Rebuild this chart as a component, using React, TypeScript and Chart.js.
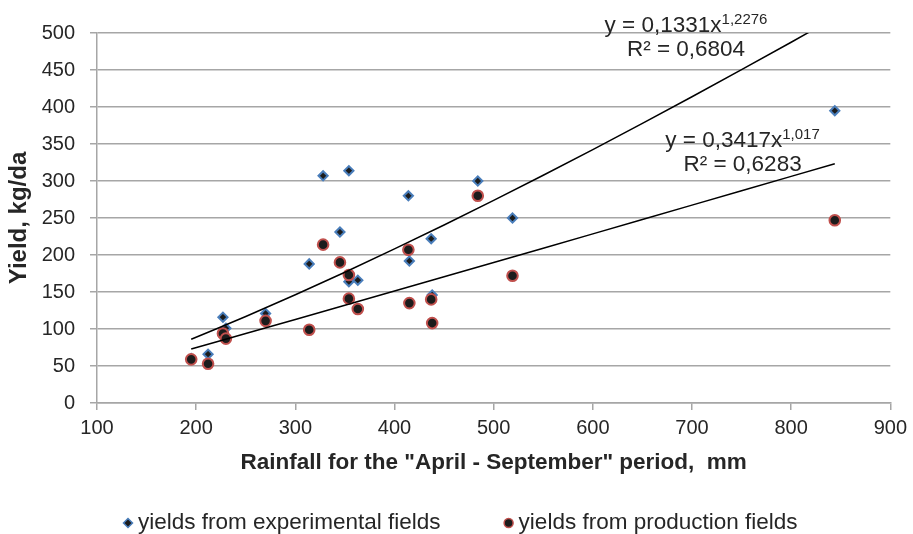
import React, { useEffect, useRef } from "react";
import { Chart, registerables } from "chart.js";

Chart.register(...registerables);

const FONT = '"Liberation Sans", Arial, Helvetica, sans-serif';
const TEXT = "#262626";
const GRID = "#a6a6a6";

// Rainfall (April - September), mm
const rainfall = [195, 212, 227, 230, 270, 314, 328, 345, 354, 354, 363, 414, 415, 437, 438, 484, 519, 844];
// Yield, kg/da
const experimentalYield = [60, 66, 116, 101, 121, 188, 307, 231, 314, 164, 166, 280, 192, 222, 146, 300, 250, 395];
const productionYield = [59, 53, 94, 87, 111, 99, 214, 190, 173, 141, 127, 207, 135, 140, 108, 280, 172, 247];

const xMin = 100;
const xMax = 900;
const xStep = 100;
const yMin = 0;
const yMax = 500;
const yStep = 50;

// power trendlines as printed on the chart: y = a * x^b
const experimentalFit = { a: 0.1331, b: 1.2276, r2: 0.6804 };
const productionFit = { a: 0.3417, b: 1.017, r2: 0.6283 };
const trendX = [195, 220, 250, 300, 350, 400, 450, 500, 550, 600, 650, 700, 750, 800, 844];

// label anchors (data units): centre x, baseline of equation, baseline of R²
const experimentalLabel = { x: 694, y: 501.4, y2: 468.9 };
const productionLabel = { x: 751, y: 346.4, y2: 313.9 };

const seriesNames = ["yields from experimental fields", "yields from production fields"];
const xTitle = 'Rainfall for the "April - September" period,  mm';
const yTitle = "Yield, kg/da";

const fmt = (v: number) => String(v).replace(".", ",");

export default function App() {
  const ref = useRef<HTMLCanvasElement | null>(null);

  useEffect(() => {
    const canvas = ref.current;
    if (!canvas) return;

    const annotations = {
      id: "annotations",
      afterDraw(chart: any) {
        const { ctx, chartArea } = chart;
        const xs = chart.scales.x;
        const ys = chart.scales.y;
        ctx.save();
        ctx.fillStyle = TEXT;
        ctx.textBaseline = "alphabetic";

        const drawEq = (fit: any, anc: any) => {
          const main = `y = ${fmt(fit.a)}x`;
          const sup = fmt(fit.b);
          ctx.font = `22.5px ${FONT}`;
          const wm = ctx.measureText(main).width;
          ctx.font = `15px ${FONT}`;
          const ws = ctx.measureText(sup).width;
          const cx = xs.getPixelForValue(anc.x);
          const by = ys.getPixelForValue(anc.y);
          const sx = cx - (wm + ws) / 2;
          ctx.textAlign = "left";
          ctx.font = `22.5px ${FONT}`;
          ctx.fillText(main, sx, by);
          ctx.font = `15px ${FONT}`;
          ctx.fillText(sup, sx + wm, by - 7.5);
          ctx.textAlign = "center";
          ctx.font = `22.5px ${FONT}`;
          ctx.fillText(`R² = ${fmt(fit.r2)}`, cx, ys.getPixelForValue(anc.y2));
        };
        drawEq(experimentalFit, experimentalLabel);
        drawEq(productionFit, productionLabel);

        // x axis title
        ctx.textAlign = "center";
        ctx.font = `bold 22.5px ${FONT}`;
        ctx.fillText(xTitle, (chartArea.left + chartArea.right) / 2, chartArea.bottom + 66);

        // legend
        ctx.font = `22.5px ${FONT}`;
        ctx.textAlign = "left";
        ctx.textBaseline = "middle";
        const ly = chartArea.bottom + 120;
        const m1 = 128;
        const t1 = m1 + 10;
        ctx.fillText(seriesNames[0], t1, ly);
        const w1 = ctx.measureText(seriesNames[0]).width;
        const m2 = t1 + w1 + 68;
        const t2 = m2 + 10;
        ctx.fillText(seriesNames[1], t2, ly);

        ctx.lineWidth = 1.5;
        ctx.beginPath();
        const r = 4.5;
        ctx.moveTo(m1 - r, ly);
        ctx.lineTo(m1, ly - r);
        ctx.lineTo(m1 + r, ly);
        ctx.lineTo(m1, ly + r);
        ctx.closePath();
        ctx.fillStyle = "#1c1c1c";
        ctx.fill();
        ctx.strokeStyle = "#4a7ebb";
        ctx.stroke();

        ctx.beginPath();
        ctx.arc(m2, ly, 4.5, 0, Math.PI * 2);
        ctx.fillStyle = "#1c1c1c";
        ctx.fill();
        ctx.strokeStyle = "#c0504d";
        ctx.stroke();
        ctx.restore();
      },
    };

    const chart = new Chart(canvas, {
      type: "scatter",
      data: {
        datasets: [
          {
            label: seriesNames[0],
            data: rainfall.map((x, i) => ({ x, y: experimentalYield[i] })),
            pointStyle: "rectRot",
            pointRadius: 4.6,
            pointBorderWidth: 2,
            pointBorderColor: "#4a7ebb",
            pointBackgroundColor: "#1c1c1c",
            order: 3,
          },
          {
            label: seriesNames[1],
            data: rainfall.map((x, i) => ({ x, y: productionYield[i] })),
            pointStyle: "circle",
            pointRadius: 5.3,
            pointBorderWidth: 2,
            pointBorderColor: "#c0504d",
            pointBackgroundColor: "#1c1c1c",
            order: 2,
          },
          {
            label: "trend experimental",
            data: trendX.map((x) => ({ x, y: experimentalFit.a * Math.pow(x, experimentalFit.b) })),
            showLine: true,
            pointRadius: 0,
            borderColor: "#000000",
            borderWidth: 1.5,
            fill: false,
            order: 1,
          } as any,
          {
            label: "trend production",
            data: trendX.map((x) => ({ x, y: productionFit.a * Math.pow(x, productionFit.b) })),
            showLine: true,
            pointRadius: 0,
            borderColor: "#000000",
            borderWidth: 1.5,
            fill: false,
            order: 1,
          } as any,
        ],
      },
      options: {
        responsive: false,
        animation: false,
        devicePixelRatio: 1,
        layout: { padding: { left: 0, top: 33, right: 21, bottom: 91 } },
        plugins: {
          legend: { display: false },
          tooltip: { enabled: false },
        },
        scales: {
          x: {
            type: "linear",
            min: xMin,
            max: xMax,
            ticks: {
              stepSize: xStep,
              color: TEXT,
              padding: 6,
              font: { family: FONT, size: 20 },
              maxRotation: 0,
            },
            grid: { drawOnChartArea: false, drawTicks: true, tickLength: 7, color: GRID, lineWidth: 1.5 },
            border: { display: true, color: GRID, width: 1.5 },
            afterFit: (s: any) => {
              s.height = 40;
            },
          },
          y: {
            type: "linear",
            min: yMin,
            max: yMax,
            ticks: {
              stepSize: yStep,
              color: TEXT,
              padding: 15,
              font: { family: FONT, size: 20 },
            },
            grid: { drawTicks: true, tickLength: 7, color: GRID, lineWidth: 1.5 },
            border: { display: true, color: GRID, width: 1.5 },
            title: {
              display: true,
              text: yTitle,
              color: TEXT,
              font: { family: FONT, size: 24, weight: "bold" },
              padding: { top: 5, bottom: 0 },
            },
            afterFit: (s: any) => {
              s.width = 97;
            },
          },
        },
      },
      plugins: [annotations],
    });

    return () => chart.destroy();
  }, []);

  return (
    <canvas
      ref={ref}
      width={913}
      height={534}
      style={{ position: "fixed", left: 0, top: 0, width: 913, height: 534, display: "block", background: "#ffffff" }}
    />
  );
}
